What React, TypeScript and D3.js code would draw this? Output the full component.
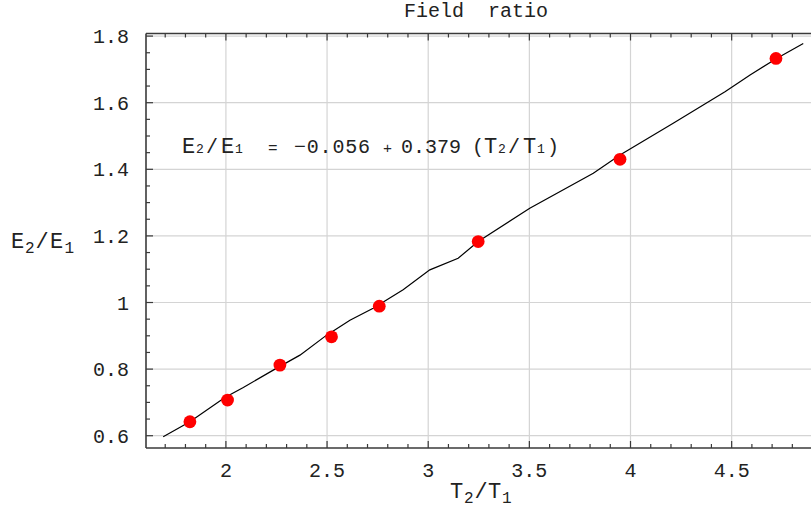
import * as React from 'react'
import * as d3 from 'd3'

// measured points (T2/T1, E2/E1)
const ratioT = [1.822, 2.008, 2.267, 2.522, 2.758, 3.247, 3.948, 4.719]
const ratioE = [0.642, 0.707, 0.812, 0.897, 0.989, 1.183, 1.430, 1.733]

// sampled fit curve as it appears in the plot
const fitT = [1.690, 1.822, 1.995, 2.086, 2.234, 2.366, 2.498, 2.613, 2.728, 2.876, 3.008, 3.148, 3.247, 3.502, 3.816, 3.948, 4.211, 4.467, 4.591, 4.722, 4.854]
const fitE = [0.597, 0.642, 0.715, 0.745, 0.797, 0.842, 0.902, 0.947, 0.983, 1.038, 1.098, 1.133, 1.183, 1.283, 1.388, 1.443, 1.538, 1.633, 1.683, 1.733, 1.778]

const xTicks = [2, 2.5, 3, 3.5, 4, 4.5]
const xTickLabels = ['2', '2.5', '3', '3.5', '4', '4.5']
const yTicks = [0.6, 0.8, 1, 1.2, 1.4, 1.6, 1.8]
const yTickLabels = ['0.6', '0.8', '1', '1.2', '1.4', '1.6', '1.8']

const W = 811
const H = 518
const font = '"Liberation Mono", "Courier New", monospace'
const axisColor = '#3a3a3a'
const gridColor = '#d4d4d4'

const App = () => {
    const x = d3.scaleLinear().domain([1.605, 4.95]).range([146, 146 + 3.345 * 202.3])
    const y = d3.scaleLinear().domain([0.5631, 1.8078]).range([448, 33.5])

    const [x0, x1] = x.range()
    const [yb, yt] = y.range()

    const xMinor = d3.range(1.7, 4.95, 0.1).filter(v => !xTicks.some(t => Math.abs(t - v) < 1e-6))
    const yMinor = d3.range(0.6, 1.801, 0.05).filter(v => !yTicks.some(t => Math.abs(t - v) < 1e-6))

    const line = d3.line<number>()
        .x((d, i) => x(fitT[i]))
        .y(d => y(d))

    return (
        <svg width={W} height={H} style={{ position: 'absolute', left: 0, top: 0, background: '#fff' }}
            fontFamily={font}>
            {/* grid */}
            {xTicks.map(t => (
                <line key={'gx' + t} x1={x(t)} x2={x(t)} y1={yb} y2={yt} stroke={gridColor} strokeWidth={1.2} />
            ))}
            {yTicks.map(t => (
                <line key={'gy' + t} x1={x0} x2={x1} y1={y(t)} y2={y(t)} stroke={gridColor} strokeWidth={1.2} />
            ))}

            {/* equation */}
            <text y={153} fontSize={20} fill="#222">
                <tspan x={182} fontSize={22}>E</tspan>
                <tspan x={196} fontSize={13}>2</tspan>
                <tspan x={206}>/</tspan>
                <tspan x={221} fontSize={22}>E</tspan>
                <tspan x={235} fontSize={13}>1</tspan>
                <tspan x={268} fontSize={16}>=</tspan>
                <tspan x={294} letterSpacing={0.8}>−0.056</tspan>
                <tspan x={383} fontSize={15}>+</tspan>
                <tspan x={401}>0.379</tspan>
                <tspan x={472}>(</tspan>
                <tspan x={484} fontSize={22}>T</tspan>
                <tspan x={498} fontSize={13}>2</tspan>
                <tspan x={508}>/</tspan>
                <tspan x={523} fontSize={22}>T</tspan>
                <tspan x={537} fontSize={13}>1</tspan>
                <tspan x={547}>)</tspan>
            </text>

            {/* fit curve */}
            <path d={line(fitE) || ''} fill="none" stroke="#000" strokeWidth={1.2} />

            {/* data points */}
            {ratioT.map((t, i) => (
                <circle key={'p' + i} cx={x(t)} cy={y(ratioE[i])} r={6.4} fill="#ff0000" />
            ))}

            {/* frame */}
            <line x1={x0} x2={x1} y1={yb} y2={yb} stroke={axisColor} strokeWidth={1.6} />
            <line x1={x0} x2={x1} y1={yt} y2={yt} stroke={axisColor} strokeWidth={1.6} />
            <line x1={x0} x2={x0} y1={yb} y2={yt} stroke={axisColor} strokeWidth={1.6} />

            {/* x ticks, bottom and top */}
            {xTicks.map(t => (
                <g key={'xt' + t}>
                    <line x1={x(t)} x2={x(t)} y1={yb} y2={yb - 7} stroke={axisColor} strokeWidth={1.2} />
                    <line x1={x(t)} x2={x(t)} y1={yt} y2={yt + 7} stroke={axisColor} strokeWidth={1.2} />
                </g>
            ))}
            {xMinor.map(t => (
                <g key={'xm' + t}>
                    <line x1={x(t)} x2={x(t)} y1={yb} y2={yb - 4} stroke={axisColor} strokeWidth={1.2} />
                    <line x1={x(t)} x2={x(t)} y1={yt} y2={yt + 4} stroke={axisColor} strokeWidth={1.2} />
                </g>
            ))}

            {/* y ticks */}
            {yTicks.map(t => (
                <line key={'yt' + t} x1={x0} x2={x0 + 7} y1={y(t)} y2={y(t)} stroke={axisColor} strokeWidth={1.2} />
            ))}
            {yMinor.map(t => (
                <line key={'ym' + t} x1={x0} x2={x0 + 4} y1={y(t)} y2={y(t)} stroke={axisColor} strokeWidth={1.2} />
            ))}

            {/* tick labels */}
            {xTicks.map((t, i) => (
                <text key={'xl' + t} x={x(t)} y={477} textAnchor="middle" fontSize={20} fill="#222">
                    {xTickLabels[i]}
                </text>
            ))}
            {yTicks.map((t, i) => (
                <text key={'yl' + t} x={129} y={y(t) + 7} textAnchor="end" fontSize={20} fill="#222">
                    {yTickLabels[i]}
                </text>
            ))}

            {/* title */}
            <text x={404} y={17} fontSize={20} fill="#222" xmlSpace="preserve">Field  ratio</text>

            {/* axis labels */}
            <text y={498} fontSize={22} fill="#222">
                <tspan x={450}>T</tspan>
                <tspan x={464} dy={5} fontSize={16}>2</tspan>
                <tspan x={474.5} dy={-5}>/</tspan>
                <tspan x={488}>T</tspan>
                <tspan x={502} dy={5} fontSize={16}>1</tspan>
            </text>
            <text y={248} fontSize={22} fill="#222">
                <tspan x={11}>E</tspan>
                <tspan x={25} dy={5} fontSize={16}>2</tspan>
                <tspan x={35.5} dy={-5}>/</tspan>
                <tspan x={50}>E</tspan>
                <tspan x={64.5} dy={5} fontSize={16}>1</tspan>
            </text>
        </svg>
    )
}

export default App
